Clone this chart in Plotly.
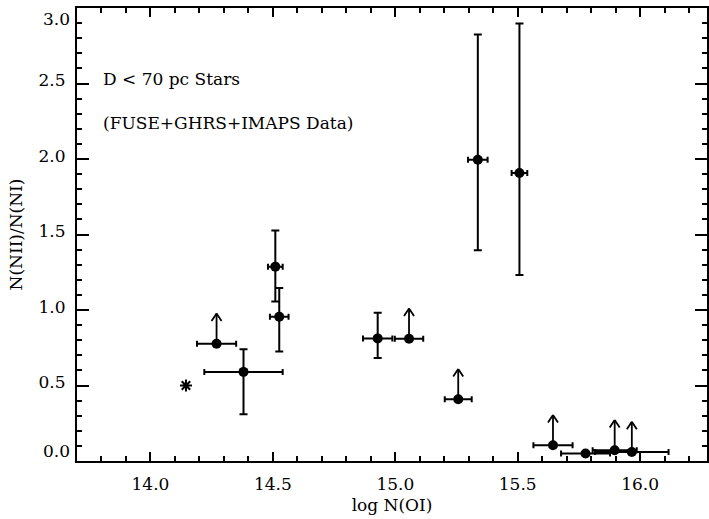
import plotly.graph_objects as go

# Measurements with both x and y errors
meas_x = [14.38, 14.51, 14.526, 14.928, 15.337, 15.507]
meas_y = [0.59, 1.287, 0.955, 0.812, 1.995, 1.907]
meas_xerr = [0.16, 0.03, 0.038, 0.06, 0.04, 0.032]
meas_yerr_plus = [0.15, 0.24, 0.19, 0.17, 0.83, 0.99]
meas_yerr_minus = [0.28, 0.23, 0.23, 0.13, 0.60, 0.675]

# Points with x errors only (mostly lower limits)
lim_x = [14.27, 15.056, 15.257, 15.644, 15.777, 15.896, 15.966]
lim_y = [0.776, 0.81, 0.409, 0.104, 0.05, 0.071, 0.06]
lim_xerr = [0.08, 0.058, 0.055, 0.08, 0.10, 0.09, 0.15]
lim_is_lower = [True, True, True, True, False, True, True]

# Special point (asterisk)
star_x = [14.145]
star_y = [0.50]

x_ticks = [14.0, 14.5, 15.0, 15.5, 16.0]
x_ticklabels = ["14.0", "14.5", "15.0", "15.5", "16.0"]
y_ticks = [0.0, 0.5, 1.0, 1.5, 2.0, 2.5, 3.0]
y_ticklabels = ["0.0", "0.5", "1.0", "1.5", "2.0", "2.5", "3.0"]

ARROW_LEN = 0.2      # length of lower-limit arrow, in y units
HEAD_W = 6           # half width of arrow head, px
HEAD_H = 9           # height of arrow head, px
FONT = "DejaVu Serif"

fig = go.Figure()

fig.add_trace(go.Scatter(
    x=meas_x, y=meas_y, mode="markers",
    marker=dict(color="black", size=10, symbol="circle"),
    error_x=dict(type="data", array=meas_xerr, color="black", thickness=2, width=3),
    error_y=dict(type="data", array=meas_yerr_plus, arrayminus=meas_yerr_minus,
                 symmetric=False, color="black", thickness=2, width=4),
    showlegend=False,
))

fig.add_trace(go.Scatter(
    x=lim_x, y=lim_y, mode="markers",
    marker=dict(color="black", size=10, symbol="circle"),
    error_x=dict(type="data", array=lim_xerr, color="black", thickness=2, width=3),
    showlegend=False,
))

fig.add_trace(go.Scatter(
    x=star_x, y=star_y, mode="markers",
    marker=dict(color="black", size=10, symbol="asterisk-open",
                line=dict(color="black", width=2)),
    showlegend=False,
))

for xi, yi, low in zip(lim_x, lim_y, lim_is_lower):
    if not low:
        continue
    tip = yi + ARROW_LEN
    # shaft
    fig.add_annotation(
        x=xi, y=tip, ax=xi, ay=yi,
        xref="x", yref="y", axref="x", ayref="y",
        text="", showarrow=True, arrowhead=0,
        arrowwidth=1.8, arrowcolor="black", standoff=0, startstandoff=0,
    )
    # open V head
    for side in (-1, 1):
        fig.add_annotation(
            x=xi, y=tip, ax=side * HEAD_W, ay=HEAD_H,
            xref="x", yref="y",
            text="", showarrow=True, arrowhead=0,
            arrowwidth=1.8, arrowcolor="black", standoff=0, startstandoff=0,
        )

fig.add_annotation(x=13.80, y=2.53, xref="x", yref="y", text="D &lt; 70 pc Stars",
                   showarrow=False, xanchor="left", yanchor="middle",
                   font=dict(family=FONT, size=17, color="black"))
fig.add_annotation(x=13.80, y=2.24, xref="x", yref="y", text="(FUSE+GHRS+IMAPS Data)",
                   showarrow=False, xanchor="left", yanchor="middle",
                   font=dict(family=FONT, size=17, color="black"))

# End labels of the y axis sit inside the axis span (as in the original)
y_text = [t if 0 < v < 3.0 else "" for v, t in zip(y_ticks, y_ticklabels)]
fig.add_annotation(x=0, y=y_ticks[-1], xref="paper", yref="y", text=y_ticklabels[-1],
                   showarrow=False, xanchor="right", yanchor="top", xshift=-5, yshift=1,
                   font=dict(family=FONT, size=17, color="black"))
fig.add_annotation(x=0, y=y_ticks[0], xref="paper", yref="y", text=y_ticklabels[0],
                   showarrow=False, xanchor="right", yanchor="bottom", xshift=-5, yshift=-2,
                   font=dict(family=FONT, size=17, color="black"))

axis_common = dict(
    showline=True, linecolor="black", linewidth=2, mirror="allticks",
    ticks="inside", tickcolor="black", tickwidth=1.5,
    showgrid=False, zeroline=False,
    tickfont=dict(family=FONT, size=17, color="black"),
)

fig.update_xaxes(
    range=[13.7, 16.273], tickvals=x_ticks, ticktext=x_ticklabels, ticklen=9,
    minor=dict(dtick=0.1, tick0=0, ticks="inside", ticklen=5, tickcolor="black", tickwidth=1.5),
    title=dict(text="log N(OI)", font=dict(family=FONT, size=17, color="black"), standoff=6),
    ticklabelstandoff=7,
    **axis_common,
)
fig.update_yaxes(
    range=[0, 3.0], tickvals=y_ticks, ticktext=y_text, ticklen=12,
    minor=dict(dtick=0.1, tick0=0, ticks="inside", ticklen=5, tickcolor="black", tickwidth=1.5),
    title=dict(text="N(NII)/N(NI)", font=dict(family=FONT, size=17, color="black"), standoff=12),
    ticklabelstandoff=6, ticklabelshift=-3,
    **axis_common,
)

fig.update_layout(
    width=709, height=519,
    margin=dict(l=77, r=0, t=8, b=58),
    paper_bgcolor="white", plot_bgcolor="white",
    font=dict(family=FONT, color="black"),
)

fig.write_html("out.html")
